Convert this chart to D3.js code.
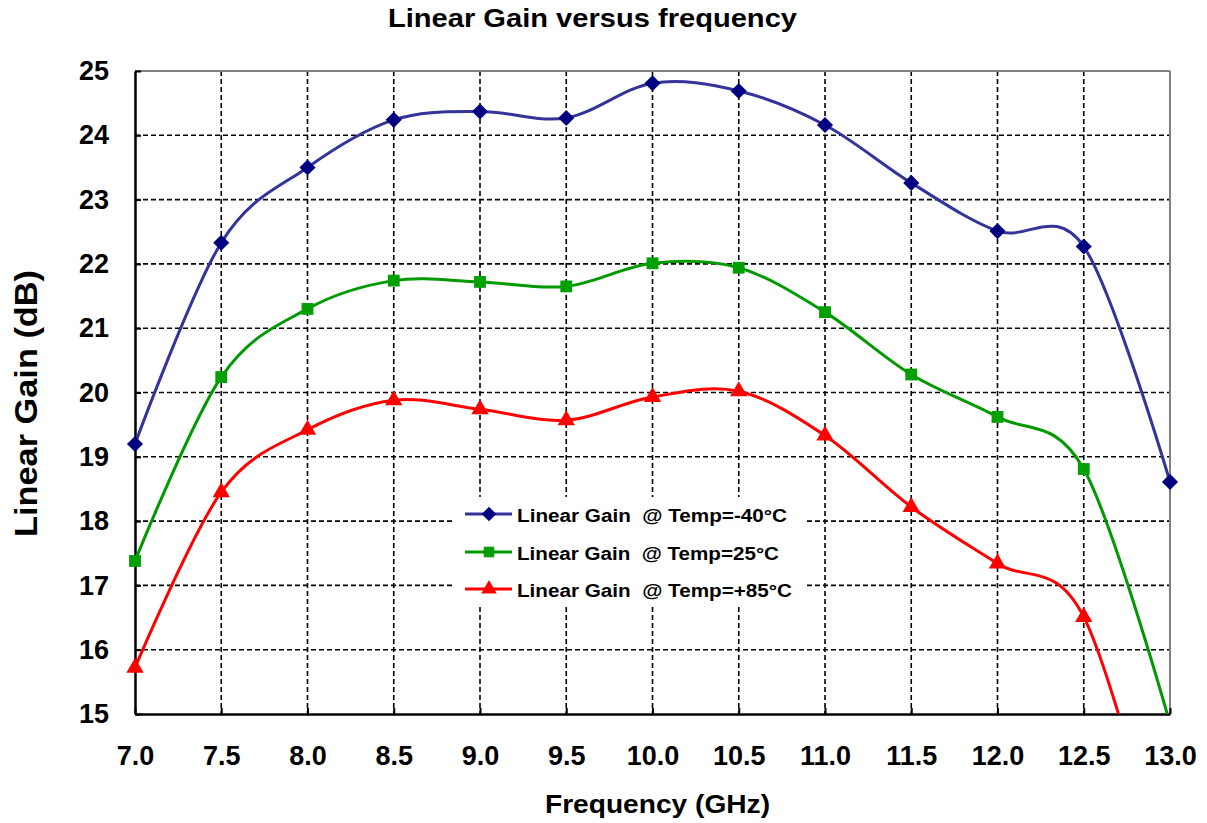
<!DOCTYPE html>
<html><head><meta charset="utf-8">
<script src="https://cdn.jsdelivr.net/npm/d3@7"></script>
<style>body{margin:0;background:#fff;} svg{font-family:"Liberation Sans",Arial,sans-serif;font-weight:bold;}</style>
</head><body><svg id="c" width="1207" height="823"></svg>
<script>
const freqs = [7.0,7.5,8.0,8.5,9.0,9.5,10.0,10.5,11.0,11.5,12.0,12.5,13.0];
const gainM40 = [19.2,22.33,23.5,24.24,24.37,24.27,24.81,24.69,24.16,23.26,22.51,22.27,18.61];
const gain25  = [17.38,20.24,21.3,21.74,21.72,21.65,22.01,21.94,21.25,20.28,19.62,18.81,14.85];
const gain85  = [15.72,18.45,19.42,19.88,19.74,19.57,19.93,20.02,19.33,18.22,17.34,16.51,12.1];
const xTicks = [7.0,7.5,8.0,8.5,9.0,9.5,10.0,10.5,11.0,11.5,12.0,12.5,13.0];
const yTicks = [15,16,17,18,19,20,21,22,23,24,25];
const seriesNames = ["Linear Gain  @ Temp=-40\u00B0C","Linear Gain  @ Temp=25\u00B0C","Linear Gain  @ Temp=+85\u00B0C"];

const svg = d3.select("#c");
const L=135, R=1170, T=71, B=714;
const x = d3.scaleLinear().domain([7,13]).range([L,R]);
const y = d3.scaleLinear().domain([15,25]).range([B,T]);

// grid
const g = svg.append("g");
g.selectAll(".vg").data(xTicks.slice(1,-1)).enter().append("line")
 .attr("x1",d=>x(d)).attr("x2",d=>x(d)).attr("y1",T).attr("y2",B)
 .attr("stroke","#000").attr("stroke-width",1.6).attr("stroke-dasharray","5,3");
g.selectAll(".hg").data(yTicks.slice(1,-1)).enter().append("line")
 .attr("x1",L).attr("x2",R).attr("y1",d=>y(d)).attr("y2",d=>y(d))
 .attr("stroke","#000").attr("stroke-width",1.6).attr("stroke-dasharray","5,3");
// top & right border
svg.append("line").attr("x1",L).attr("x2",R).attr("y1",T).attr("y2",T).attr("stroke","#808080").attr("stroke-width",2);
svg.append("line").attr("x1",R).attr("x2",R).attr("y1",T).attr("y2",B).attr("stroke","#808080").attr("stroke-width",2);

// axes
const xAxis = d3.axisBottom(x).tickValues(xTicks).tickFormat(d3.format(".1f")).tickSizeInner(-6).tickSizeOuter(0).tickPadding(32);
const xg = svg.append("g").attr("transform",`translate(0,${B})`).call(xAxis);
xg.select(".domain").attr("stroke","#000").attr("stroke-width",2.5);
xg.selectAll(".tick line").attr("stroke","#000").attr("stroke-width",2);
xg.selectAll("text").attr("font-size",27).attr("font-family","Liberation Sans, Arial").attr("font-weight","bold").attr("fill","#000");

const yAxis = d3.axisLeft(y).tickValues(yTicks).tickSizeInner(-6).tickSizeOuter(0).tickPadding(26);
const yg = svg.append("g").attr("transform",`translate(${L},0)`).call(yAxis);
yg.select(".domain").attr("stroke","#000").attr("stroke-width",2.5);
yg.selectAll(".tick line").attr("stroke","#000").attr("stroke-width",2);
yg.selectAll("text").attr("font-size",27).attr("font-family","Liberation Sans, Arial").attr("font-weight","bold").attr("fill","#000");

// clip
svg.append("clipPath").attr("id","clip").append("rect").attr("x",L-12).attr("y",T-12).attr("width",R-L+24).attr("height",B-T+12);

const series = [
 {vals:gainM40, line:"#333399", mark:"#000080", sym:d3.symbolDiamond2, size:165},
 {vals:gain25, line:"#009900", mark:"#00A000", sym:d3.symbolSquare, size:140},
 {vals:gain85, line:"#FF0000", mark:"#FF0000", sym:d3.symbolTriangle, size:130}
];
const lineGen = d3.line().x(d=>x(d[0])).y(d=>y(d[1])).curve(d3.curveCardinal.tension(0));
const plot = svg.append("g").attr("clip-path","url(#clip)");
series.forEach(s=>{
  const pts = freqs.map((f,i)=>[f,s.vals[i]]);
  plot.append("path").datum(pts).attr("d",lineGen).attr("fill","none").attr("stroke",s.line).attr("stroke-width",3);
  plot.selectAll(null).data(pts).enter().append("path")
   .attr("d",d3.symbol().type(s.sym).size(s.size))
   .attr("transform",d=>`translate(${x(d[0])},${y(d[1])})`).attr("fill",s.mark);
});

// legend
const lg = svg.append("g");
lg.append("rect").attr("x",455).attr("y",497).attr("width",352).attr("height",108).attr("fill","#fff");
const ly = [514,552,589];
const lw = [270,262,275];
series.forEach((s,i)=>{
  lg.append("line").attr("x1",465).attr("x2",512).attr("y1",ly[i]).attr("y2",ly[i]).attr("stroke",s.line).attr("stroke-width",3);
  lg.append("path").attr("d",d3.symbol().type(s.sym).size(s.size*0.8)).attr("transform",`translate(489,${ly[i]})`).attr("fill",s.mark);
  lg.append("text").attr("x",517).attr("y",ly[i]+8).attr("font-size",18).attr("fill","#000")
    .attr("textLength",lw[i]).attr("lengthAdjust","spacingAndGlyphs").style("white-space","pre").text(seriesNames[i]);
});

// titles
svg.append("text").attr("x",388).attr("y",27).attr("font-size",26).attr("textLength",409).attr("lengthAdjust","spacingAndGlyphs").text("Linear Gain versus frequency");
svg.append("text").attr("x",545).attr("y",813).attr("font-size",26).attr("textLength",225).attr("lengthAdjust","spacingAndGlyphs").text("Frequency (GHz)");
svg.append("text").attr("transform","translate(37,537) rotate(-90)").attr("font-size",32).attr("textLength",267).attr("lengthAdjust","spacingAndGlyphs").text("Linear Gain (dB)");
</script></body></html>
